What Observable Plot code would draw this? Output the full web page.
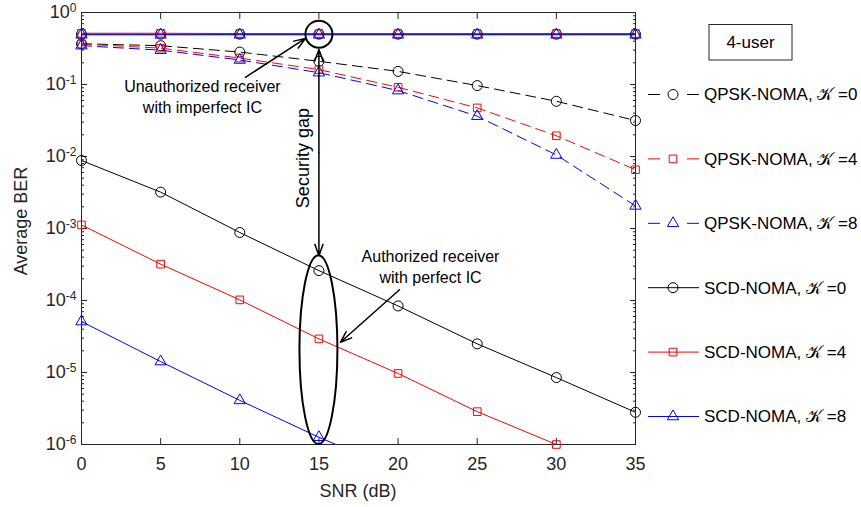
<!DOCTYPE html>
<html><head><meta charset="utf-8">
<script src="https://cdn.jsdelivr.net/npm/d3@7"></script>
<script src="https://cdn.jsdelivr.net/npm/@observablehq/plot@0.6"></script>
<style>
body{margin:0;background:#fff}
#chart svg{font-family:"Liberation Sans",Arial,sans-serif;overflow:visible}
</style>
</head><body><div id="chart"></div>
<script>
// ---- data ----
const snr = [0, 5, 10, 15, 20, 25, 30, 35];
const xTicks = [0, 5, 10, 15, 20, 25, 30, 35];
const yTicks = [1e-6, 1e-5, 1e-4, 1e-3, 1e-2, 1e-1, 1];

// QPSK-NOMA, unauthorized receiver (dashed)
const qpskK0 = [0.368, 0.346, 0.282, 0.21, 0.152, 0.0966, 0.0585, 0.0316];
const qpskK4 = [0.364, 0.32, 0.233, 0.161, 0.0915, 0.0473, 0.0194, 0.00655];
const qpskK8 = [0.346, 0.30, 0.219, 0.146, 0.0823, 0.0363, 0.0105, 0.00206];
// SCD-NOMA, unauthorized receiver (solid, near 0.5)
const scdUnK0 = [0.50, 0.50, 0.50, 0.50, 0.50, 0.50, 0.50, 0.50];
const scdUnK4 = [0.515, 0.515, 0.51, 0.51, 0.51, 0.51, 0.51, 0.51];
const scdUnK8 = [0.49, 0.49, 0.49, 0.49, 0.49, 0.49, 0.49, 0.49];
// SCD-NOMA, authorized receiver (solid)
const scdK0 = [0.0088, 0.0032, 0.00088, 0.00026, 8.4e-5, 2.5e-5, 8.5e-6, 2.8e-6];
const scdK4 = [0.00112, 3.2e-4, 1.02e-4, 2.93e-5, 9.7e-6, 2.86e-6, 1.0e-6, 3.5e-7];
const scdK8 = [5.1e-5, 1.42e-5, 4.1e-6, 1.26e-6, 4.3e-7];

const seriesNames = ["QPSK-NOMA, \u{1D4A6} =0", "QPSK-NOMA, \u{1D4A6} =4", "QPSK-NOMA, \u{1D4A6} =8",
                     "SCD-NOMA, \u{1D4A6} =0", "SCD-NOMA, \u{1D4A6} =4", "SCD-NOMA, \u{1D4A6} =8"];

const series = [
  {id: "q0", values: qpskK0, color: "#000000", symbol: "circle", dashed: true, legend: 0},
  {id: "q4", values: qpskK4, color: "#ff0000", symbol: "square", dashed: true, legend: 1},
  {id: "q8", values: qpskK8, color: "#0000ff", symbol: "triangle", dashed: true, legend: 2},
  {id: "u0", values: scdUnK0, color: "#000000", symbol: "circle", dashed: false},
  {id: "u4", values: scdUnK4, color: "#ff0000", symbol: "square", dashed: false},
  {id: "u8", values: scdUnK8, color: "#0000ff", symbol: "triangle", dashed: false},
  {id: "s0", values: scdK0, color: "#000000", symbol: "circle", dashed: false, legend: 3},
  {id: "s4", values: scdK4, color: "#ff0000", symbol: "square", dashed: false, legend: 4},
  {id: "s8", values: scdK8, color: "#0000ff", symbol: "triangle", dashed: false, legend: 5}
];

const rows = [];
series.forEach(s => s.values.forEach((v, i) => rows.push({snr: snr[i], ber: v, id: s.id, color: s.color, symbol: s.symbol, dashed: s.dashed})));
const visible = rows.filter(d => d.ber >= 0.999e-6);

// annotations in data coordinates
const unauthCircle = [{snr: 15, ber: 0.5}];
const arrows = [
  {x1: 10.36, y1: 0.126, x2: 14.15, y2: 0.436},          // unauthorized text -> circle
  {x1: 15, y1: 0.0113, x2: 15, y2: 0.307},               // security gap up
  {x1: 15, y1: 0.0113, x2: 15, y2: 4.2e-4},              // security gap down
  {x1: 20.09, y1: 1.41e-4, x2: 16.36, y2: 2.63e-5}       // authorized text -> ellipse
];
const labels = [
  {snr: 7.64, ber: 0.0697, text: "Unauthorized receiver\nwith imperfect IC", rotate: 0},
  {snr: 22.05, ber: 3.03e-4, text: "Authorized receiver\nwith perfect IC", rotate: 0},
  {snr: 14.0, ber: 0.0095, text: "Security gap", rotate: -90}
];
const ellipseBox = {x1: 13.8, x2: 16.2, yTop: 4.2e-4, yBottom: 1e-6};

const minorY = [];
for (let e = -6; e < 0; e++) for (let m = 2; m <= 9; m++) minorY.push(m * Math.pow(10, e));

const ink = "#262626";
const dotMarks = (sym, r) => Plot.dot(visible.filter(d => d.symbol === sym), {
  x: "snr", y: "ber", stroke: "color", symbol: sym, r, fill: "none", strokeWidth: 1
});

const plot = Plot.plot({
  width: 861, height: 507,
  marginLeft: 81, marginRight: 226, marginTop: 12, marginBottom: 63,
  style: {fontFamily: "'Liberation Sans', Arial, sans-serif", fontSize: "16px", background: "#fff", color: ink},
  x: {domain: [0, 35]},
  y: {type: "log", domain: [1e-6, 1]},
  color: {type: "identity"},
  marks: [
    // axes: labels
    Plot.axisX({ticks: xTicks, tickSize: 0, tickPadding: 13, label: null, fontSize: 18}),
    Plot.axisY({ticks: yTicks, tickSize: 0, tickPadding: 5, label: null, fontSize: 18,
      tickFormat: d => String(Math.round(Math.log10(d)))}),
    // inward ticks
    Plot.axisX({ticks: xTicks, tickSize: -6, tickFormat: () => "", label: null, anchor: "bottom"}),
    Plot.axisX({ticks: xTicks, tickSize: -6, tickFormat: () => "", label: null, anchor: "top"}),
    Plot.axisY({ticks: yTicks, tickSize: -6, tickFormat: () => "", label: null, anchor: "left"}),
    Plot.axisY({ticks: yTicks, tickSize: -6, tickFormat: () => "", label: null, anchor: "right"}),
    Plot.axisY({ticks: minorY, tickSize: -3, tickFormat: () => "", label: null, anchor: "left"}),
    Plot.axisY({ticks: minorY, tickSize: -3, tickFormat: () => "", label: null, anchor: "right"}),
    Plot.frame({stroke: ink}),
    // lines
    Plot.line(rows.filter(d => d.dashed), {x: "snr", y: "ber", z: "id", stroke: "color", strokeWidth: 1, strokeDasharray: "10,6", clip: true}),
    Plot.line(rows.filter(d => !d.dashed), {x: "snr", y: "ber", z: "id", stroke: "color", strokeWidth: 1, clip: true}),
    dotMarks("circle", 5),
    dotMarks("square", 4.3),
    dotMarks("triangle", 4.2),
    // annotations
    Plot.dot(unauthCircle, {x: "snr", y: "ber", r: 13.5, stroke: "#000", strokeWidth: 2, fill: "none"}),
    Plot.arrow(arrows, {x1: "x1", y1: "y1", x2: "x2", y2: "y2", stroke: "#000", strokeWidth: 1.5, headLength: 12, headAngle: 40}),
    Plot.text(labels.filter(d => !d.rotate), {x: "snr", y: "ber", text: "text", fontSize: 16, lineHeight: 1.3, fill: "#000"}),
    Plot.text(labels.filter(d => d.rotate), {x: "snr", y: "ber", text: "text", rotate: -90, fontSize: 18, fill: "#000"})
  ]
});

document.getElementById("chart").appendChild(plot);
const svg = d3.select(plot);

// superscript exponents on y tick labels
svg.selectAll('g[aria-label="y-axis tick label"] text').each(function () {
  const t = this.textContent;
  if (!t) return;
  const sel = d3.select(this);
  sel.text(null);
  sel.append("tspan").text("10");
  sel.append("tspan").attr("dy", "-0.5em").attr("font-size", "12px").text(t);
});

// axis titles
svg.append("text").attr("x", 358).attr("y", 491).attr("dy", "0.35em").attr("text-anchor", "middle")
  .attr("font-size", 18).attr("fill", ink).text("SNR (dB)");
svg.append("text").attr("transform", "translate(21,221) rotate(-90)").attr("dy", "0.35em").attr("text-anchor", "middle")
  .attr("font-size", 18).attr("fill", ink).text("Average BER");

// ellipse around authorized receivers
const xs = plot.scale("x"), ys = plot.scale("y");
const ex1 = xs.apply(ellipseBox.x1), ex2 = xs.apply(ellipseBox.x2);
const eyT = ys.apply(ellipseBox.yTop), eyB = ys.apply(ellipseBox.yBottom);
svg.append("ellipse")
  .attr("cx", (ex1 + ex2) / 2).attr("cy", (eyT + eyB) / 2)
  .attr("rx", (ex2 - ex1) / 2).attr("ry", (eyB - eyT) / 2)
  .attr("fill", "none").attr("stroke", "#000").attr("stroke-width", 2);

// legend
const lg = svg.append("g").attr("font-size", 17).attr("fill", "#000").attr("text-anchor", "start");
lg.append("rect").attr("x", 709).attr("y", 24.5).attr("width", 83).attr("height", 35.5)
  .attr("fill", "#fff").attr("stroke", ink).attr("stroke-width", 1);
lg.append("text").attr("x", 750.5).attr("y", 42.5).attr("dy", "0.35em").attr("text-anchor", "middle").text("4-user");
const symType = {circle: d3.symbolCircle, square: d3.symbolSquare, triangle: d3.symbolTriangle};
const symR = {circle: 5, square: 4.3, triangle: 4.2};
series.filter(s => s.legend !== undefined).forEach(s => {
  const y = 94.5 + s.legend * 64.4;
  lg.append("line").attr("x1", 648).attr("x2", 699).attr("y1", y).attr("y2", y)
    .attr("stroke", s.color).attr("stroke-width", 1)
    .attr("stroke-dasharray", s.dashed ? "12,27" : null);
  lg.append("path").attr("d", d3.symbol(symType[s.symbol], Math.PI * symR[s.symbol] ** 2)())
    .attr("transform", `translate(673,${y})`).attr("fill", "none").attr("stroke", s.color);
  lg.append("text").attr("x", 704).attr("y", y).attr("dy", "0.35em").attr("text-anchor", "start").text(seriesNames[s.legend]);
});
</script>
</body></html>
